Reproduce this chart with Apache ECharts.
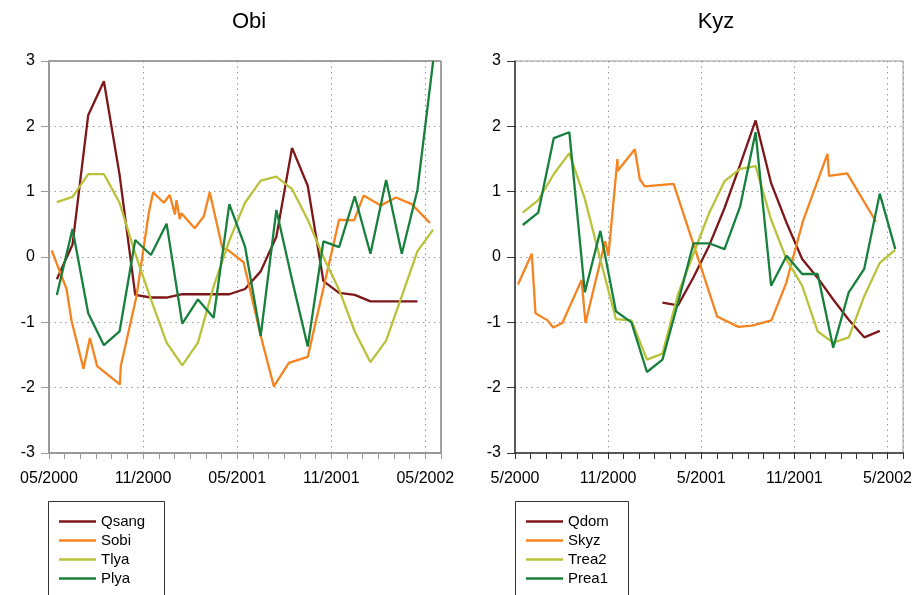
<!DOCTYPE html>
<html>
<head>
<meta charset="utf-8">
<script src="https://cdn.jsdelivr.net/npm/echarts@6/dist/echarts.min.js"></script>
<style>
  html, body { margin: 0; padding: 0; background: #fff; }
  #chart { width: 915px; height: 595px; }
</style>
</head>
<body>
<div id="chart"></div>
<script>
// x = months since May 2000 (monthly values sit mid-month)
var xLabelsObi = ['05/2000', '11/2000', '05/2001', '11/2001', '05/2002'];
var xLabelsKyz = ['5/2000', '11/2000', '5/2001', '11/2001', '5/2002'];
var yTicks = [-3, -2, -1, 0, 1, 2, 3];

var months = [0.5, 1.5, 2.5, 3.5, 4.5, 5.5, 6.5, 7.5, 8.5, 9.5, 10.5, 11.5, 12.5,
  13.5, 14.5, 15.5, 16.5, 17.5, 18.5, 19.5, 20.5, 21.5, 22.5, 23.5, 24.5];

// Obi
var qsang = [-0.34, 0.19, 2.17, 2.69, 1.26, -0.58, -0.62, -0.62, -0.57, -0.57, -0.57, -0.57,
  -0.49, -0.22, 0.31, 1.67, 1.09, -0.37, -0.55, -0.58, -0.68, -0.68, -0.68, -0.68];
var tlya = [0.84, 0.92, 1.27, 1.27, 0.83, 0.05, -0.65, -1.31, -1.66, -1.31, -0.45, 0.25,
  0.83, 1.17, 1.23, 1.04, 0.57, 0.0, -0.5, -1.14, -1.61, -1.28, -0.6, 0.09, 0.42];
var plya = [-0.58, 0.43, -0.86, -1.35, -1.14, 0.26, 0.03, 0.51, -1.02, -0.65, -0.93, 0.81,
  0.16, -1.21, 0.72, -0.35, -1.37, 0.24, 0.15, 0.93, 0.05, 1.18, 0.05, 1.03, 3.0];
var sobi = [[0.17, 0.1], [1.12, -0.49], [1.44, -0.98], [2.2, -1.71], [2.61, -1.24], [3.07, -1.67],
  [4.52, -1.95], [4.58, -1.67], [5.58, -0.6], [6.38, 0.7], [6.64, 0.99], [7.32, 0.83], [7.7, 0.95],
  [8.03, 0.65], [8.13, 0.87], [8.34, 0.58], [8.44, 0.67], [9.29, 0.44], [9.87, 0.62], [10.25, 0.99],
  [11.05, 0.14], [11.4, 0.11], [12.41, -0.08], [13.54, -1.24], [14.34, -1.98], [15.3, -1.62],
  [16.5, -1.53], [18.5, 0.57], [19.46, 0.56], [20.06, 0.94], [21.17, 0.79], [22.13, 0.91],
  [23.13, 0.81], [24.3, 0.52]];

// Kyz
var qdomMonths = [9.5, 10.5, 11.5, 12.5, 13.5, 14.5, 15.5, 16.5, 17.5, 18.5, 19.5, 20.5, 21.5, 22.5, 23.5];
var qdom = [-0.7, -0.74, -0.31, 0.17, 0.75, 1.41, 2.09, 1.13, 0.52, -0.03, -0.32, -0.65, -0.96, -1.23, -1.13];
var trea2 = [0.68, 0.87, 1.27, 1.59, 0.89, -0.04, -0.95, -0.97, -1.57, -1.48, -0.57, 0.05,
  0.67, 1.16, 1.35, 1.39, 0.57, -0.04, -0.44, -1.14, -1.31, -1.23, -0.6, -0.09, 0.11];
var prea1 = [0.49, 0.68, 1.82, 1.91, -0.54, 0.4, -0.83, -1.0, -1.76, -1.57, -0.7, 0.21,
  0.21, 0.12, 0.77, 1.91, -0.44, 0.02, -0.26, -0.26, -1.39, -0.54, -0.18, 0.97, 0.12];
var skyz = [[0.19, -0.42], [1.08, 0.05], [1.32, -0.86], [2.1, -0.97], [2.46, -1.08], [3.05, -1.01],
  [4.29, -0.35], [4.54, -1.01], [5.81, 0.24], [6.02, 0.02], [6.6, 1.5], [6.62, 1.32], [7.72, 1.65],
  [8.04, 1.19], [8.36, 1.08], [10.22, 1.12], [13.02, -0.91], [14.4, -1.07], [15.25, -1.05],
  [16.52, -0.97], [17.47, -0.4], [18.54, 0.54], [20.13, 1.58], [20.23, 1.24], [21.4, 1.28],
  [23.26, 0.54]];

var colors = ['#7d1719', '#f5831f', '#b9c23b', '#18803d'];

function zip(xs, ys) {
  return ys.map(function (v, i) { return [xs[i], v]; });
}

var font = "'Liberation Sans', Arial, sans-serif";

function xAxis(idx, labels, lineColor, lineWidth) {
  return {
    type: 'value', gridIndex: idx, min: 0, max: 25, interval: 6,
    axisLine: { show: true, onZero: false, lineStyle: { color: lineColor, width: lineWidth } },
    axisTick: { show: true, length: 6, lineStyle: { color: lineColor } },
    minorTick: { show: true, splitNumber: 6, length: 6, lineStyle: { color: lineColor } },
    axisLabel: {
      margin: 18, fontSize: 16, color: '#000', fontFamily: font, showMaxLabel: true,
      formatter: function (v) {
        var k = Math.round(v / 6);
        return (Math.abs(v - k * 6) < 1e-6 && labels[k]) ? labels[k] : '';
      }
    },
    splitLine: { show: true, lineStyle: { color: '#999', type: [1.5, 4] } }
  };
}

function yAxis(idx, lineColor, lineWidth) {
  return {
    type: 'value', gridIndex: idx, min: yTicks[0], max: yTicks[yTicks.length - 1], interval: 1,
    axisLine: { show: true, lineStyle: { color: lineColor, width: lineWidth } },
    axisTick: { show: true, length: 8, lineStyle: { color: lineColor } },
    axisLabel: { margin: 14, fontSize: 16, color: '#000', fontFamily: font },
    splitLine: { show: true, lineStyle: { color: '#999', type: [1.5, 4] } }
  };
}

function line(name, data, color, idx) {
  return {
    name: name, type: 'line', xAxisIndex: idx, yAxisIndex: idx, data: data,
    showSymbol: false, symbol: 'none', animation: false,
    lineStyle: { color: color, width: 2.3 }, itemStyle: { color: color }
  };
}

function legend(left, names) {
  return {
    left: left, top: 514, orient: 'vertical', data: names, height: 200,
    icon: 'rect', itemWidth: 37, itemHeight: 2.5, itemGap: 4, itemTextGap: 12,
    textStyle: { fontSize: 15, color: '#000', fontFamily: font },
    padding: 0
  };
}

// legend frames (run past the bottom edge, as in the original)
function frame(x, w) {
  return {
    type: 'rect', silent: true,
    shape: { x: x, y: 501.5, width: w, height: 120 },
    style: { fill: 'none', stroke: '#333', lineWidth: 1 }
  };
}

var chart = echarts.init(document.getElementById('chart'));
chart.setOption({
  animation: false,
  title: [
    { text: 'Obi', left: 244, top: 6, textAlign: 'center',
      textStyle: { fontSize: 22, fontWeight: 'normal', color: '#000', fontFamily: font } },
    { text: 'Kyz', left: 711, top: 6, textAlign: 'center',
      textStyle: { fontSize: 22, fontWeight: 'normal', color: '#000', fontFamily: font } }
  ],
  grid: [
    { left: 49, top: 61, width: 392, height: 392, show: true, borderColor: '#444', borderWidth: 1 },
    { left: 515, top: 61, width: 393, height: 392, show: true, borderColor: '#999', borderWidth: 1 }
  ],
  xAxis: [xAxis(0, xLabelsObi, '#999', 2), xAxis(1, xLabelsKyz, '#333', 1.5)],
  yAxis: [yAxis(0, '#999', 2), yAxis(1, '#333', 1.5)],
  legend: [
    legend(59, ['Qsang', 'Sobi', 'Tlya', 'Plya']),
    legend(526, ['Qdom', 'Skyz', 'Trea2', 'Prea1'])
  ],
  graphic: [frame(48.5, 116), frame(515.5, 113)],
  series: [
    line('Qsang', zip(months, qsang), colors[0], 0),
    line('Sobi', sobi, colors[1], 0),
    line('Tlya', zip(months, tlya), colors[2], 0),
    line('Plya', zip(months, plya), colors[3], 0),
    line('Qdom', zip(qdomMonths, qdom), colors[0], 1),
    line('Skyz', skyz, colors[1], 1),
    line('Trea2', zip(months, trea2), colors[2], 1),
    line('Prea1', zip(months, prea1), colors[3], 1)
  ]
});
</script>
</body>
</html>
